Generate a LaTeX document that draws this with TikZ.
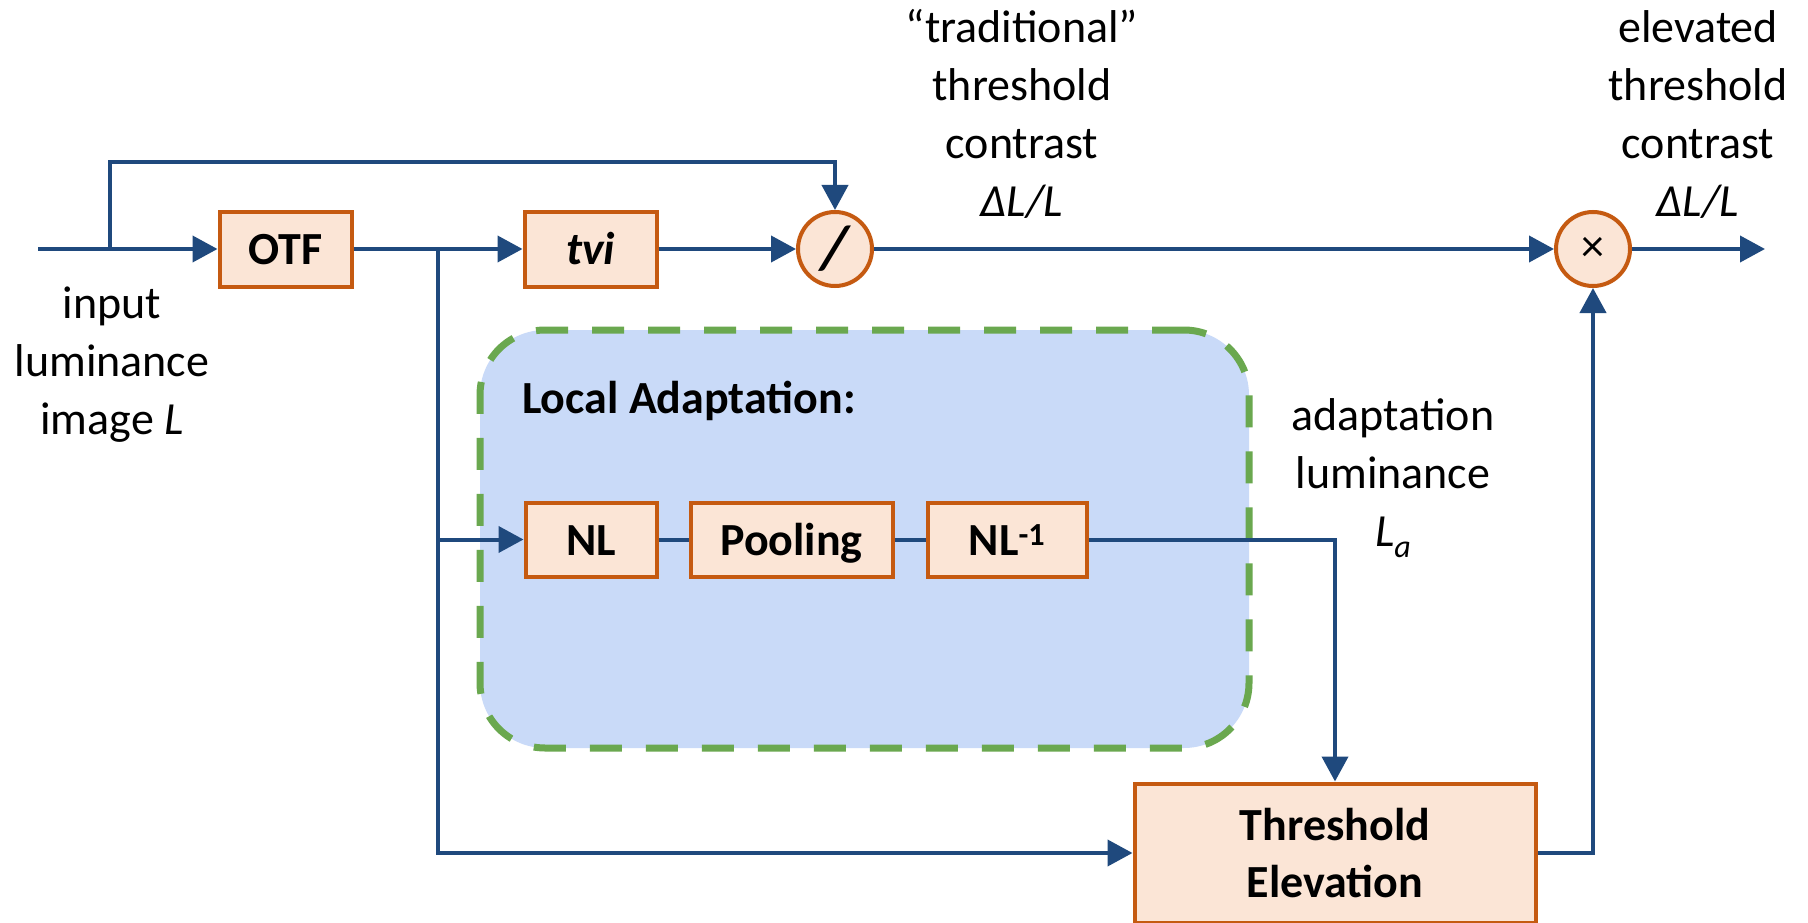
\documentclass[tikz,border=0pt]{standalone}
\usepackage{fontspec}
\setmainfont{Carlito}
\usetikzlibrary{arrows.meta,shapes.geometric}
\definecolor{lineblue}{RGB}{31,73,125}
\definecolor{boxfill}{RGB}{251,229,214}
\definecolor{boxdraw}{RGB}{197,90,17}
\definecolor{grn}{RGB}{106,168,79}
\definecolor{lafill}{RGB}{201,218,248}
\newcommand\stk[1]{\begin{tabular}[t]{@{}c@{}}#1\end{tabular}}
\begin{document}
\begin{tikzpicture}[x=1pt,y=-1pt,
  blk/.style={rectangle,draw=boxdraw,fill=boxfill,line width=4pt,inner sep=0pt,
    align=center,font=\fontsize{46}{57}\selectfont\bfseries},
  sblk/.style={blk,text height=31pt,text depth=0pt},
  op/.style={circle,draw=boxdraw,fill=boxfill,line width=4pt,inner sep=0pt,
    minimum size=74pt,font=\fontsize{46}{57}\selectfont},
  conn/.style={draw=lineblue,line width=4pt},
  arr/.style={conn,-{Triangle[length=25pt,width=26pt]}},
  lbl/.style={font=\fontsize{46}{58}\selectfont,anchor=base,inner sep=0pt},
  group/.style={draw=grn,fill=lafill,line width=7pt,dash pattern=on 32pt off 24pt,
    rounded corners=65pt,inner sep=0pt}]
\useasboundingbox[fill=white] (0,0) rectangle (1808,923);

% local adaptation container
\node[group,minimum width=769pt,minimum height=418pt] (la) at (864.5,539) {};
\node[font=\fontsize{46}{58}\selectfont\bfseries,anchor=base west,inner sep=0pt] (latitle) at (522,413) {Local Adaptation:};

% blocks
\node[sblk,minimum width=132pt,minimum height=75pt] (otf) at (285.5,249) {OTF};
\node[sblk,minimum width=132pt,minimum height=75pt] (tvi) at (590.5,249) {\textit{tvi}};
\node[op] (div) at (835,249) {\fontsize{62}{62}\selectfont\bfseries\itshape /};
\node[op] (mul) at (1593,249) {×};
\node[sblk,minimum width=131pt,minimum height=74pt] (nl) at (591,539.5) {NL};
\node[sblk,minimum width=202pt,minimum height=74pt] (pool) at (791.5,539.5) {Pooling};
\node[sblk,minimum width=159pt,minimum height=74pt] (nlinv) at (1007,539.5) {NL\textsuperscript{-1}};
\node[blk,minimum width=401pt,minimum height=139pt] (te) at (1335,853) {Threshold\\Elevation};

% coordinates
\coordinate (in) at (38,249);
\coordinate (b1) at (110,249);
\coordinate (b2) at (438,249);
\coordinate (out) at (1765,249);

% connectors
\draw[arr] (in) -- (otf.west);
\draw[arr] (b1) |- (835,162) -- (div.north);
\draw[arr] (otf.east) -- (tvi.west);
\draw[arr] (tvi.east) -- (div.west);
\draw[arr] (div.east) -- (mul.west);
\draw[arr] (mul.east) -- (out);
\draw[arr] (b2) |- (te.west);
\draw[arr] (b2 |- nl.west) -- (nl.west);
\draw[conn] (nl.east) -- (pool.west);
\draw[conn] (pool.east) -- (nlinv.west);
\draw[arr] (nlinv.east) -| (te.north);
\draw[arr] (te.east) -| (mul.south);

% labels
\node[lbl] (linput) at (112,318) {\stk{input\\luminance\\image \textit{L}}};
\node[lbl] (ltrad) at (1022,43) {\stk{“traditional”\\threshold\\contrast\\\textit{ΔL/L}}};
\node[lbl] (lelev) at (1698,43) {\stk{elevated\\threshold\\contrast\\\textit{ΔL/L}}};
\node[lbl] (ladapt) at (1393,430) {\stk{adaptation\\luminance\\\textit{L}\raisebox{-11pt}{\fontsize{32}{32}\selectfont\textit{a}}}};
\end{tikzpicture}
\end{document}
